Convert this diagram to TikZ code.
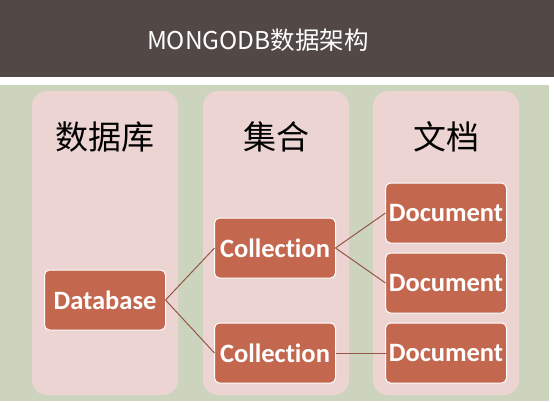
\documentclass[tikz,border=0pt]{standalone}
\usepackage{fontspec}
\setmainfont{Carlito}[Ligatures={NoCommon}]
\newfontfamily\cjkfont{Noto Sans CJK SC}
\usetikzlibrary{positioning,fit,calc}
\definecolor{barbrown}{HTML}{524846}
\definecolor{backgreen}{HTML}{CDD4BD}
\definecolor{colpink}{HTML}{EBD4D1}
\definecolor{boxred}{HTML}{C3684F}
\definecolor{linkbrown}{HTML}{935647}

\begin{document}
\begin{tikzpicture}[x=1pt,y=-1pt,thin]
\tikzstyle{every node}=[inner sep=0pt,outer sep=0pt]
\tikzstyle{column}=[draw=none,fill=colpink,rounded corners=15pt]
\tikzstyle{item}=[rectangle,draw=white,line width=1pt,fill=boxred,rounded corners=5pt,
  minimum width=121pt,minimum height=60pt,text=white,font=\fontsize{26.5}{30}\selectfont\bfseries]
\tikzstyle{head}=[font=\cjkfont\fontsize{33}{36}\selectfont]
\tikzstyle{link}=[draw=linkbrown,line width=1pt]
% page and background
\useasboundingbox (0,0) rectangle (554,402);
\fill[white] (0,0) rectangle (554,402);
\fill[barbrown] (0,0) rectangle (554,77);
\fill[backgreen] (0,85) rectangle (549,401);
\node[text=white,font=\cjkfont\fontsize{24.5}{28}\selectfont] (title) at (258,40) {MONGODB数据架构};
% the three columns
\fill[column] (32,91) rectangle (178,395);
\fill[column] (203,91) rectangle (349,395);
\fill[column] (373,91) rectangle (519,395);
\node[head] (dbhead) at (105,137) {数据库};
\node[head] (collhead) at (276,137) {集合};
\node[head] (dochead) at (446,137) {文档};
% the boxes
\node[item] (db) at (105,300) {Database};
\node[item] (coll1) at (275,248) {Collection};
\node[item] (coll2) at (275,353) {Collection};
\node[item] (doc1) at (446,213) {Document};
\node[item] (doc2) at (446,283) {Document};
\node[item] (doc3) at (446,353) {Document};
% links
\draw[link] (db.east) -- (coll1.west);
\draw[link] (db.east) -- (coll2.west);
\draw[link] (coll1.east) -- (doc1.west);
\draw[link] (coll1.east) -- (doc2.west);
\draw[link] (coll2.east) -- (doc3.west);
\end{tikzpicture}
\end{document}
